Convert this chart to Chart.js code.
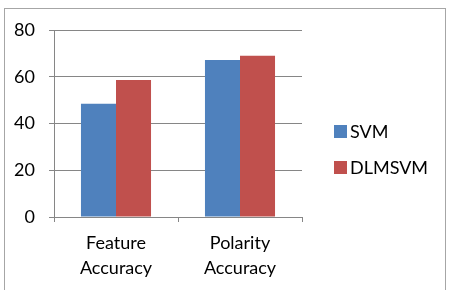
<!DOCTYPE html>
<html>
<head>
<meta charset="utf-8">
<script src="https://cdn.jsdelivr.net/npm/chart.js@4/dist/chart.umd.min.js"></script>
<style>
  html, body { margin: 0; padding: 0; background: #fff; }
  #wrap { position: relative; width: 452px; height: 290px; }
  #frame { position: absolute; left: 4px; top: 8px; width: 442px; height: 290px; border: 1px solid #a6a6a6; border-bottom: none; box-sizing: border-box; }
  canvas { position: absolute; left: 0; top: 0; }
</style>
</head>
<body>
<div id="wrap">
  <div id="frame"></div>
  <canvas id="chart" width="452" height="290"></canvas>
</div>
<script>
const categories = [['Feature', 'Accuracy'], ['Polarity', 'Accuracy']];
const svmValues = [48.5, 67.2];
const dlmsvmValues = [58.6, 69.0];
const yTicks = [0, 20, 40, 60, 80];

const fontFamily = "Lato, 'Open Sans', sans-serif";

// legend drawn at the right, like the office chart
const sideLegend = {
  id: 'sideLegend',
  afterDraw(chart) {
    const ctx = chart.ctx;
    ctx.save();
    ctx.font = '18px ' + fontFamily;
    ctx.textBaseline = 'middle';
    chart.data.datasets.forEach((ds, i) => {
      const y = 132 + i * 36;
      ctx.fillStyle = ds.backgroundColor;
      ctx.fillRect(334, y - 7, 13, 13);
      ctx.fillStyle = '#000';
      ctx.fillText(ds.label, 350, y);
    });
    ctx.restore();
  }
};

new Chart(document.getElementById('chart'), {
  type: 'bar',
  data: {
    labels: categories,
    datasets: [
      {
        label: 'SVM',
        data: svmValues,
        backgroundColor: '#4f81bd',
        borderWidth: 0,
        categoryPercentage: 0.565,
        barPercentage: 1.0
      },
      {
        label: 'DLMSVM',
        data: dlmsvmValues,
        backgroundColor: '#c0504d',
        borderWidth: 0,
        categoryPercentage: 0.565,
        barPercentage: 1.0
      }
    ]
  },
  options: {
    responsive: false,
    animation: false,
    layout: { padding: { top: 30, right: 150, left: 0, bottom: 0 } },
    plugins: {
      tooltip: { enabled: false },
      legend: { display: false }
    },
    scales: {
      x: {
        afterFit: axis => { axis.height = 73; },
        grid: { drawOnChartArea: false, drawTicks: true, tickLength: 5, color: '#868686', offset: true },
        border: { color: '#868686' },
        ticks: { color: '#000', font: { family: fontFamily, size: 18, lineHeight: 1.38 }, padding: 9 }
      },
      y: {
        min: 0,
        max: 80,
        afterFit: axis => { axis.width = 54; },
        afterBuildTicks: axis => { axis.ticks = yTicks.map(v => ({ value: v })); },
        grid: { color: '#868686', tickLength: 5 },
        border: { color: '#868686' },
        ticks: { color: '#000', font: { family: fontFamily, size: 18 }, padding: 14 }
      }
    }
  },
  plugins: [sideLegend]
});
</script>
</body>
</html>
